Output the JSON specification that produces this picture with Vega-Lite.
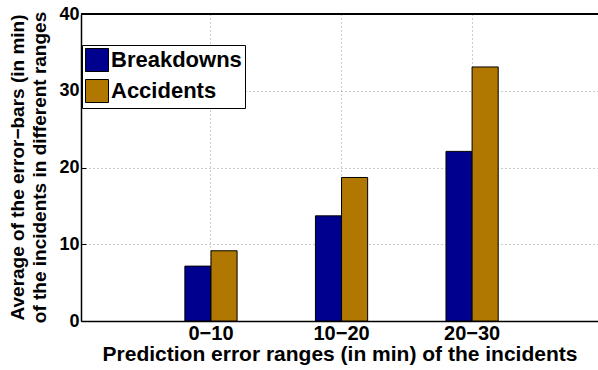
{
  "$schema": "https://vega.github.io/schema/vega-lite/v6.json",
  "width": 517,
  "height": 307,
  "autosize": {"type": "none"},
  "padding": {"left": 81, "top": 14, "right": 0, "bottom": 49},
  "background": "white",
  "config": {
    "view": {"stroke": null},
    "font": "Liberation Sans",
    "axis": {"labelFont": "Liberation Sans", "titleFont": "Liberation Sans", "labelFontWeight": 700, "titleFontWeight": 700},
    "legend": {"labelFont": "Liberation Sans", "labelFontWeight": 700}
  },
  "data": {
    "values": [
      {"range": "0−10", "type": "Breakdowns", "value": 7.15},
      {"range": "0−10", "type": "Accidents", "value": 9.15},
      {"range": "10−20", "type": "Breakdowns", "value": 13.7},
      {"range": "10−20", "type": "Accidents", "value": 18.7},
      {"range": "20−30", "type": "Breakdowns", "value": 22.1},
      {"range": "20−30", "type": "Accidents", "value": 33.1}
    ]
  },
  "layer": [
    {
      "mark": {"type": "bar", "stroke": "black", "strokeWidth": 1},
      "encoding": {
        "x": {
          "field": "range",
          "type": "nominal",
          "sort": ["0−10", "10−20", "20−30"],
          "scale": {"paddingInner": 0.6, "paddingOuter": 0.78, "align": 0.51},
          "axis": {
            "title": "Prediction error ranges (in min) of the incidents",
            "labelAngle": 0,
            "labelFontWeight": 700,
            "labelFontSize": 20,
            "labelColor": "black",
            "labelPadding": 7,
            "ticks": true,
            "tickSize": -5,
            "tickColor": "black",
            "tickBand": "center",
            "domainColor": "black",
            "domainWidth": 1.5,
            "grid": true,
            "gridDash": [1, 3],
            "gridColor": "#999999",
            "bandPosition": 0.5,
            "titleFontSize": 21,
            "titleFontWeight": 700,
            "titleColor": "black",
            "titlePadding": 0
          }
        },
        "xOffset": {
          "field": "type",
          "type": "nominal",
          "sort": ["Breakdowns", "Accidents"],
          "scale": {"paddingInner": 0, "paddingOuter": 0}
        },
        "y": {
          "field": "value",
          "type": "quantitative",
          "scale": {"domain": [0, 40], "nice": false},
          "axis": {
            "title": ["Average of the error−bars (in min)", "of the incidents in different ranges"],
            "values": [0, 10, 20, 30, 40],
            "labelFontWeight": 700,
            "labelFontSize": 18,
            "labelColor": "black",
            "labelPadding": 7,
            "ticks": true,
            "tickSize": -5,
            "tickColor": "black",
            "domainColor": "black",
            "domainWidth": 1.5,
            "grid": true,
            "gridDash": [1, 3],
            "gridColor": "#999999",
            "titleFontSize": 19,
            "titleFontWeight": 700,
            "titleColor": "black",
            "titleBaseline": "top",
            "titleAlign": "center",
            "titleX": -73,
            "titleY": 153,
            "titleLineHeight": 22
          }
        },
        "color": {
          "field": "type",
          "type": "nominal",
          "sort": ["Breakdowns", "Accidents"],
          "scale": {"range": ["#00008F", "#B07800"]},
          "legend": {
            "orient": "none",
            "legendX": 1,
            "legendY": 31,
            "title": null,
            "symbolType": "square",
            "symbolSize": 529,
            "symbolStrokeColor": "black",
            "symbolStrokeWidth": 1,
            "symbolOpacity": 1,
            "labelFontSize": 22,
            "labelFontWeight": 700,
            "labelColor": "black",
            "labelOffset": 2,
            "strokeColor": "black",
            "fillColor": "white",
            "padding": 3,
            "rowPadding": 3
          }
        }
      }
    },
    {
      "mark": {"type": "rule", "color": "black", "strokeWidth": 1.5},
      "encoding": {"y": {"datum": 40}}
    }
  ]
}
